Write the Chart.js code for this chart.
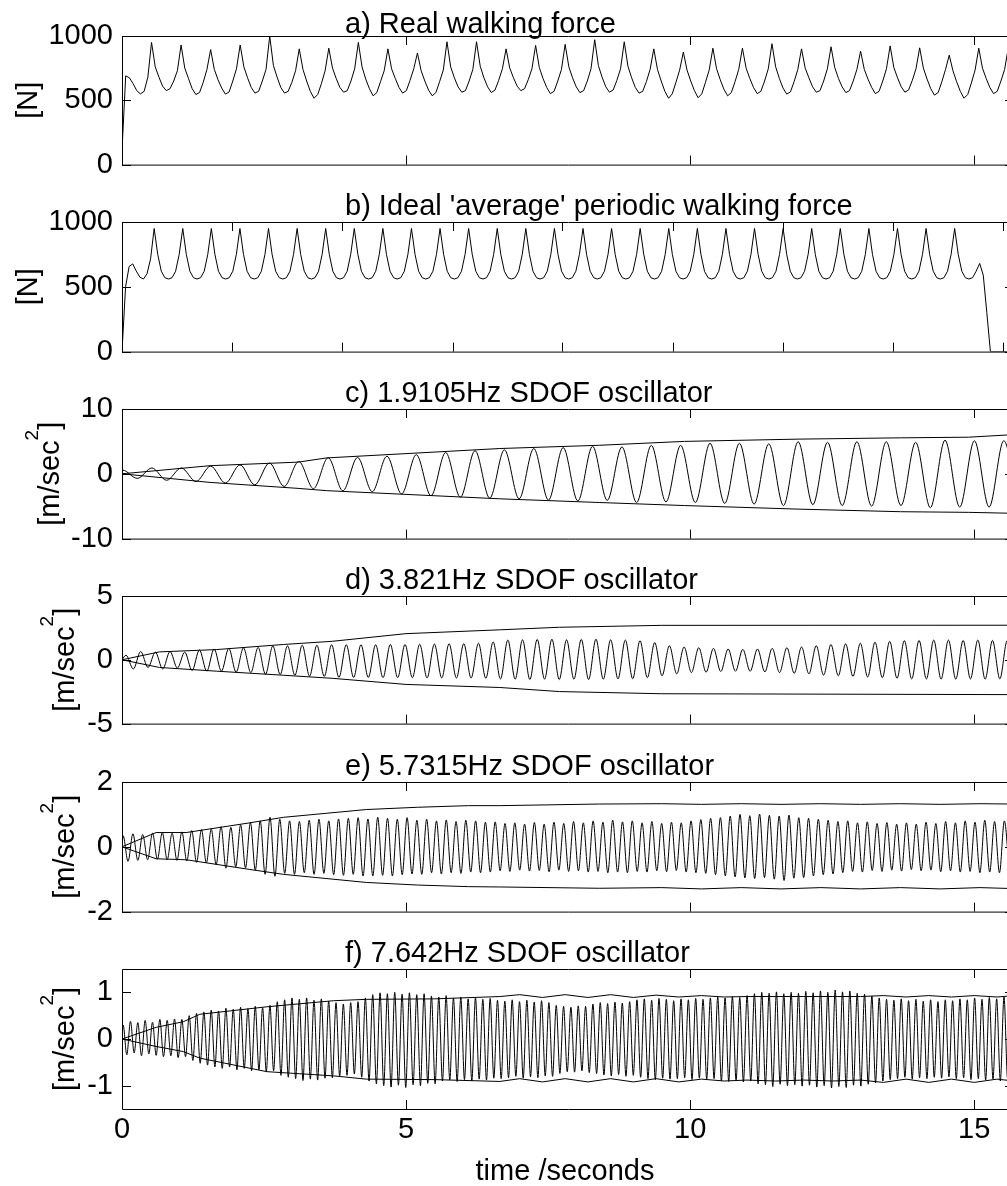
<!DOCTYPE html>
<html>
<head>
<meta charset="utf-8">
<title>Walking force and SDOF oscillator responses</title>
<script src="https://cdn.jsdelivr.net/npm/chart.js@4.4.1/dist/chart.umd.min.js"></script>
<style>
  html, body { margin: 0; padding: 0; background: #fff; overflow: hidden; }
  #figure { position: relative; width: 1007px; height: 1186px; overflow: hidden; background: #fff; }
  #figure canvas { position: absolute; left: 0; }
</style>
</head>
<body>
<div id="figure"></div>
<script>
//////////////////////////////////
// Data
//////////////////////////////////
const timeMax = 15.7;            // seconds, right edge of the axes
const timeTicks = [0, 5, 10, 15];
const bTicks = [1.94, 3.88, 5.82, 7.75, 9.69, 11.63, 13.57, 15.51];

// a) real walking force [N], one sample every 0.065 s
const aStep = 0.065;
const aForce = [
  110, 690, 675, 630, 575, 550, 570, 680,
  950, 760, 680, 610, 575, 590, 650, 730,
  930, 750, 670, 590, 545, 560, 640, 740,
  894, 740, 660, 595, 548, 565, 650, 745,
  930, 760, 675, 600, 556, 570, 650, 740,
  1000, 770, 680, 600, 556, 570, 640, 730,
  900, 740, 650, 570, 516, 545, 630, 730,
  905, 750, 670, 600, 563, 575, 650, 745,
  950, 760, 665, 590, 535, 560, 645, 730,
  900, 745, 670, 600, 556, 575, 655, 745,
  868, 730, 650, 580, 535, 560, 645, 735,
  955, 760, 675, 605, 563, 575, 650, 740,
  955, 765, 675, 605, 560, 580, 655, 745,
  900, 750, 675, 610, 575, 590, 660, 745,
  927, 755, 670, 600, 552, 570, 650, 740,
  935, 760, 675, 605, 560, 575, 650, 745,
  971, 770, 680, 605, 563, 580, 655, 745,
  955, 765, 675, 600, 556, 570, 645, 740,
  900, 740, 650, 570, 516, 550, 640, 735,
  875, 735, 650, 575, 520, 550, 640, 735,
  905, 745, 660, 585, 535, 560, 645, 740,
  905, 750, 670, 600, 552, 570, 650, 745,
  940, 760, 670, 595, 548, 565, 645, 740,
  900, 750, 675, 605, 563, 575, 650, 745,
  916, 755, 670, 605, 560, 575, 650, 740,
  882, 740, 665, 600, 552, 570, 650, 745,
  923, 755, 675, 605, 563, 580, 655, 745,
  908, 750, 665, 590, 540, 560, 645, 740,
  851, 730, 645, 570, 516, 545, 635, 735,
  905, 750, 670, 600, 552, 570, 650, 740,
  910, 750
];

// b) ideal 'average' periodic walking force [N], one sample every 0.0629 s
const bStep = 0.0629;
const bForce = [
  0, 500, 657, 677, 621, 574, 560, 600, 716,
  950, 750, 620, 570, 560, 570, 620, 750,
  950, 750, 620, 570, 560, 570, 620, 750,
  950, 750, 620, 570, 560, 570, 620, 750,
  950, 750, 620, 570, 560, 570, 620, 750,
  950, 750, 620, 570, 560, 570, 620, 750,
  950, 750, 620, 570, 560, 570, 620, 750,
  950, 750, 620, 570, 560, 570, 620, 750,
  950, 750, 620, 570, 560, 570, 620, 750,
  950, 750, 620, 570, 560, 570, 620, 750,
  950, 750, 620, 570, 560, 570, 620, 750,
  950, 750, 620, 570, 560, 570, 620, 750,
  950, 750, 620, 570, 560, 570, 620, 750,
  950, 750, 620, 570, 560, 570, 620, 750,
  950, 750, 620, 570, 560, 570, 620, 750,
  950, 750, 620, 570, 560, 570, 620, 750,
  950, 750, 620, 570, 560, 570, 620, 750,
  950, 750, 620, 570, 560, 570, 620, 750,
  950, 750, 620, 570, 560, 570, 620, 750,
  950, 750, 620, 570, 560, 570, 620, 750,
  950, 750, 620, 570, 560, 570, 620, 750,
  950, 750, 620, 570, 560, 570, 620, 750,
  950, 750, 620, 570, 560, 570, 620, 750,
  950, 750, 620, 570, 560, 570, 620, 750,
  950, 750, 620, 570, 560, 570, 620, 750,
  950, 750, 620, 570, 560, 570, 620, 750,
  950, 750, 620, 570, 560, 570, 620, 750,
  950, 750, 620, 570, 560, 570, 620, 750,
  950, 750, 620, 570, 560, 570, 620, 750,
  950, 750, 620, 570, 560, 570, 620, 680,
  590, 300, 0, 0, 0, 0, 0, 0, 0, 0
];

// c) 1.9105Hz oscillator: successive peaks / troughs [m/sec^2]
const cStart = 0.01, cStep = 0.2585;
const cAccel = [
  0.57, -0.71, 0.9, -1.0, 0.9, -1.19, 1.19, -1.43, 1.38, -1.71,
  1.67, -1.95, 1.9, -2.29, 2.48, -2.62, 2.52, -2.76, 2.71, -3.1,
  2.95, -3.38, 3.29, -3.62, 3.57, -3.76, 3.7, -3.86, 3.9, -4.05,
  4.05, -4.19, 4.24, -4.1, 4.14, -4.43, 4.38, -4.33, 4.38, -4.43,
  4.71, -4.57, 4.71, -4.67, 4.62, -4.9, 4.95, -4.76, 4.86, -4.9,
  4.95, -5.0, 4.95, -4.9, 4.86, -5.24, 5.19, -5.14, 5.1, -5.14,
  5.1, -5.2
];
const cEnvTime = [0, 1.55, 3.1, 3.6, 6.65, 8.4, 9.9, 11.9, 13.7, 14.9, 15.7];
const cUpper = [0, 1.25, 1.8, 2.45, 3.9, 4.4, 5.0, 5.35, 5.55, 5.65, 6.05];
const cLower = [0, -1.33, -2.25, -2.6, -3.86, -4.43, -4.9, -5.45, -5.85, -5.95, -6.1];

// d) 3.821Hz oscillator
const dStart = 0.07, dStep = 0.12925;
const dAccel = [
  0.36, -0.72, 0.65, -0.6, 0.6, -0.72, 0.65, -0.65, 0.6, -0.84,
  0.77, -0.89, 0.85, -0.89, 0.89, -0.97, 0.94, -1.0, 0.97, -1.13,
  1.09, -1.15, 1.09, -1.21, 1.14, -1.28, 1.14, -1.3, 1.18, -1.38,
  1.18, -1.38, 1.18, -1.38, 1.18, -1.4, 1.2, -1.4, 1.2, -1.4,
  1.22, -1.42, 1.24, -1.42, 1.26, -1.43, 1.26, -1.43, 1.3, -1.45,
  1.4, -1.5, 1.55, -1.52, 1.57, -1.55, 1.6, -1.52, 1.62, -1.55,
  1.57, -1.52, 1.6, -1.55, 1.62, -1.52, 1.57, -1.5, 1.55, -1.48,
  1.5, -1.4, 1.35, -1.25, 1.1, -1.1, 1.0, -1.0, 0.95, -0.97,
  0.9, -0.92, 0.85, -0.9, 0.82, -0.9, 0.85, -0.95, 0.9, -1.0,
  0.95, -1.05, 1.0, -1.1, 1.1, -1.2, 1.2, -1.25, 1.25, -1.3,
  1.3, -1.35, 1.38, -1.4, 1.45, -1.45, 1.5, -1.5, 1.52, -1.5,
  1.55, -1.52, 1.55, -1.52, 1.52, -1.5, 1.55, -1.52, 1.52, -1.5,
  1.5, -1.5
];
const dEnvTime = [0, 0.66, 1.66, 2.84, 3.7, 5.0, 6.65, 7.7, 9.5, 15.7];
const dUpper = [0, 0.62, 0.8, 1.2, 1.45, 2.05, 2.35, 2.55, 2.7, 2.71];
const dLower = [0, -0.6, -0.89, -1.21, -1.45, -1.93, -2.17, -2.49, -2.66, -2.73];

// e) 5.7315Hz oscillator
const eStart = 0.02, eStep = 0.08617;
const eAccel = [
  0.34, -0.45, 0.4, -0.42, 0.38, -0.4, 0.42, -0.38, 0.44, -0.4,
  0.42, -0.42, 0.46, -0.44, 0.5, -0.48, 0.53, -0.5, 0.55, -0.55,
  0.62, -0.66, 0.6, -0.62, 0.68, -0.65, 0.75, -0.72, 0.8, -0.85,
  0.91, -0.91, 0.85, -0.82, 0.8, -0.85, 0.78, -0.8, 0.82, -0.85,
  0.85, -0.82, 0.8, -0.86, 0.86, -0.88, 0.88, -0.85, 0.9, -0.9,
  0.86, -0.9, 0.91, -0.88, 0.88, -0.9, 0.85, -0.86, 0.9, -0.84,
  0.82, -0.85, 0.85, -0.8, 0.8, -0.84, 0.83, -0.8, 0.78, -0.82,
  0.82, -0.78, 0.8, -0.8, 0.76, -0.78, 0.77, -0.74, 0.72, -0.76,
  0.74, -0.72, 0.7, -0.75, 0.75, -0.73, 0.7, -0.77, 0.76, -0.72,
  0.72, -0.76, 0.78, -0.74, 0.74, -0.78, 0.8, -0.76, 0.76, -0.8,
  0.82, -0.78, 0.77, -0.8, 0.8, -0.76, 0.74, -0.78, 0.78, -0.74,
  0.72, -0.77, 0.76, -0.73, 0.74, -0.78, 0.8, -0.8, 0.84, -0.82,
  0.88, -0.86, 0.9, -0.9, 0.95, -0.93, 1.0, -0.96, 0.96, -0.98,
  1.01, -0.95, 0.97, -1.0, 0.95, -1.04, 0.98, -0.97, 0.9, -0.95,
  0.88, -0.9, 0.85, -0.86, 0.82, -0.84, 0.78, -0.8, 0.8, -0.76,
  0.74, -0.78, 0.77, -0.73, 0.72, -0.76, 0.75, -0.72, 0.7, -0.75,
  0.74, -0.7, 0.7, -0.74, 0.76, -0.72, 0.72, -0.77, 0.78, -0.74,
  0.74, -0.78, 0.8, -0.76, 0.76, -0.8, 0.82, -0.78, 0.78, -0.8,
  0.8, -0.78
];
const eEnvTime = [0, 0.6, 1.13, 2.25, 2.84, 4.3, 5.2, 6.1, 6.65, 8.4, 9.5, 10.2, 10.9, 11.6, 12.3, 13.0, 13.7, 14.4, 15.1, 15.7];
const eUpper = [0, 0.44, 0.44, 0.74, 0.91, 1.15, 1.22, 1.27, 1.27, 1.32, 1.33, 1.31, 1.33, 1.31, 1.33, 1.31, 1.33, 1.31, 1.33, 1.32];
const eLower = [0, -0.37, -0.4, -0.7, -0.85, -1.1, -1.18, -1.23, -1.24, -1.28, -1.26, -1.3, -1.26, -1.3, -1.26, -1.3, -1.26, -1.3, -1.26, -1.29];

// f) 7.642Hz oscillator
const fStart = 0.02, fStep = 0.0646;
const fAccel = [
  0.3, -0.34, 0.38, -0.3, 0.35, -0.36, 0.4, -0.32, 0.36, -0.35,
  0.42, -0.38, 0.4, -0.36, 0.43, -0.4, 0.42, -0.38, 0.5, -0.46,
  0.55, -0.52, 0.58, -0.56, 0.62, -0.6, 0.6, -0.63, 0.66, -0.6,
  0.64, -0.66, 0.68, -0.63, 0.65, -0.68, 0.7, -0.66, 0.67, -0.7,
  0.72, -0.68, 0.8, -0.78, 0.84, -0.82, 0.88, -0.85, 0.85, -0.89,
  0.88, -0.86, 0.83, -0.88, 0.86, -0.84, 0.81, -0.83, 0.78, -0.8,
  0.75, -0.78, 0.78, -0.75, 0.8, -0.82, 0.88, -0.9, 0.95, -0.96,
  0.99, -1.0, 0.97, -1.03, 1.0, -0.99, 0.96, -1.04, 0.99, -0.98,
  0.95, -1.0, 0.97, -0.95, 0.92, -0.96, 0.9, -0.9, 0.93, -0.88,
  0.88, -0.91, 0.9, -0.87, 0.86, -0.9, 0.89, -0.86, 0.85, -0.88,
  0.87, -0.84, 0.83, -0.85, 0.81, -0.83, 0.84, -0.8, 0.8, -0.84,
  0.83, -0.81, 0.79, -0.83, 0.82, -0.79, 0.78, -0.8, 0.72, -0.74,
  0.7, -0.7, 0.68, -0.71, 0.71, -0.68, 0.7, -0.72, 0.75, -0.74,
  0.78, -0.77, 0.76, -0.79, 0.79, -0.76, 0.77, -0.8, 0.8, -0.78,
  0.84, -0.82, 0.86, -0.85, 0.83, -0.87, 0.87, -0.84, 0.85, -0.86,
  0.82, -0.85, 0.86, -0.83, 0.84, -0.87, 0.87, -0.84, 0.85, -0.86,
  0.88, -0.85, 0.9, -0.9, 0.88, -0.91, 0.91, -0.89, 0.89, -0.92,
  0.93, -0.9, 0.97, -0.96, 1.0, -0.98, 0.98, -1.02, 1.01, -0.97,
  0.97, -1.0, 1.0, -0.98, 0.98, -1.01, 1.02, -0.99, 0.99, -1.03,
  1.03, -1.0, 1.0, -1.05, 1.05, -1.02, 1.01, -1.04, 1.03, -0.99,
  0.98, -1.01, 0.96, -0.97, 0.92, -0.94, 0.88, -0.9, 0.85, -0.87,
  0.83, -0.85, 0.86, -0.82, 0.82, -0.86, 0.85, -0.83, 0.81, -0.85,
  0.84, -0.82, 0.8, -0.84, 0.84, -0.81, 0.82, -0.85, 0.86, -0.83,
  0.84, -0.87, 0.88, -0.85, 0.85, -0.88, 0.89, -0.86, 0.86, -0.9,
  0.9, -0.87, 0.88
];
const fEnvTime = [0, 0.6, 1.08, 1.37, 2.55, 3.72, 4.3, 5.5, 6.65, 7.0, 7.4, 7.8, 8.2, 8.6, 9.0, 9.4, 9.8, 10.2, 10.6, 11.0, 11.5, 12.0, 12.5, 13.0, 13.4, 13.8, 14.2, 14.6, 15.0, 15.4, 15.7];
const fUpper = [0, 0.25, 0.37, 0.53, 0.69, 0.82, 0.85, 0.86, 0.91, 0.95, 0.89, 0.95, 0.89, 0.95, 0.89, 0.94, 0.9, 0.93, 0.9, 0.91, 0.91, 0.91, 0.91, 0.91, 0.93, 0.9, 0.93, 0.9, 0.93, 0.9, 0.93];
const fLower = [0, -0.16, -0.27, -0.41, -0.7, -0.79, -0.86, -0.87, -0.91, -0.85, -0.92, -0.85, -0.92, -0.85, -0.92, -0.85, -0.92, -0.86, -0.9, -0.88, -0.9, -0.88, -0.9, -0.88, -0.93, -0.86, -0.93, -0.86, -0.93, -0.86, -0.9];

//////////////////////////////////
// Helpers
//////////////////////////////////
const FONT = '"Liberation Sans", Arial, Helvetica, sans-serif';
const FONT_SIZE = 29;
const SUP_SIZE = 19;
const SUP_RAISE = 21;
const TITLE_X = 345;
const TICK_LEN = 9;
const CANVAS_W = 1020;   // right edge of the axes falls just outside the window

function sampled(start, step, values, withOrigin) {
    const pts = values.map((v, i) => ({ x: start + i * step, y: v }));
    return withOrigin ? [{ x: 0, y: 0 }].concat(pts) : pts;
}

function paired(times, values) {
    return times.map((t, i) => ({ x: t, y: values[i] }));
}

function trace(points, smooth) {
    return {
        data: points,
        borderColor: '#000',
        borderWidth: 1,
        pointRadius: 0,
        fill: false,
        tension: 0,
        cubicInterpolationMode: smooth ? 'monotone' : 'default'
    };
}

const forceLabel = [{ t: '[N]' }];
const accelLabel = [{ t: '[m/sec' }, { t: '2', sup: true }, { t: ']' }];

const panels = [
    { title: 'a) Real walking force', titleGap: 3, top: 36, height: 139,
      yMin: 0, yMax: 1000, yTicks: [0, 500, 1000], xTicks: [5, 10, 15],
      yLabel: forceLabel, labelX: 37,
      datasets: [trace(sampled(0, aStep, aForce, false), false)] },
    { title: "b) Ideal 'average' periodic walking force", titleGap: 7.5, top: 222, height: 140,
      yMin: 0, yMax: 1000, yTicks: [0, 500, 1000], xTicks: bTicks,
      yLabel: forceLabel, labelX: 37,
      datasets: [trace(sampled(0, bStep, bForce, false), false)] },
    { title: 'c) 1.9105Hz SDOF oscillator', titleGap: 7.5, top: 409, height: 140,
      yMin: -10, yMax: 10, yTicks: [-10, 0, 10], xTicks: [5, 10, 15],
      yLabel: accelLabel, labelX: 59,
      datasets: [trace(sampled(cStart, cStep, cAccel, true), true),
                 trace(paired(cEnvTime, cUpper), false),
                 trace(paired(cEnvTime, cLower), false)] },
    { title: 'd) 3.821Hz SDOF oscillator', titleGap: 7.5, top: 596, height: 138,
      yMin: -5, yMax: 5, yTicks: [-5, 0, 5], xTicks: [5, 10, 15],
      yLabel: accelLabel, labelX: 74,
      datasets: [trace(sampled(dStart, dStep, dAccel, true), true),
                 trace(paired(dEnvTime, dUpper), false),
                 trace(paired(dEnvTime, dLower), false)] },
    { title: 'e) 5.7315Hz SDOF oscillator', titleGap: 7.5, top: 782, height: 140,
      yMin: -2, yMax: 2, yTicks: [-2, 0, 2], xTicks: [5, 10, 15],
      yLabel: accelLabel, labelX: 74,
      datasets: [trace(sampled(eStart, eStep, eAccel, true), true),
                 trace(paired(eEnvTime, eUpper), false),
                 trace(paired(eEnvTime, eLower), false)] },
    { title: 'f) 7.642Hz SDOF oscillator', titleGap: 7.5, top: 969, height: 140,
      yMin: -1.5, yMax: 1.5, yTicks: [-1, 0, 1], xTicks: [5, 10, 15],
      yLabel: accelLabel, labelX: 74, xTitle: 'time /seconds', bottomAxis: 77,
      datasets: [trace(sampled(fStart, fStep, fAccel, true), true),
                 trace(paired(fEnvTime, fUpper), false),
                 trace(paired(fEnvTime, fLower), false)] }
];

//////////////////////////////////
// MATLAB-style box, inward ticks, titles
//////////////////////////////////
function makeAxesPlugin(p) {
    return {
        id: 'matlabAxes',
        afterDraw(chart) {
            const ctx = chart.ctx;
            const a = chart.chartArea;
            const xs = chart.scales.x, ys = chart.scales.y;
            ctx.save();
            ctx.strokeStyle = '#000';
            ctx.lineWidth = 1;
            ctx.beginPath();
            ctx.rect(a.left + 0.5, a.top + 0.5, a.right - a.left, a.bottom - a.top);
            p.xTicks.forEach(v => {
                const px = Math.round(xs.getPixelForValue(v)) + 0.5;
                ctx.moveTo(px, a.top); ctx.lineTo(px, a.top + TICK_LEN);
                ctx.moveTo(px, a.bottom); ctx.lineTo(px, a.bottom - TICK_LEN);
            });
            p.yTicks.forEach(v => {
                const py = Math.round(ys.getPixelForValue(v)) + 0.5;
                ctx.moveTo(a.left, py); ctx.lineTo(a.left + TICK_LEN, py);
                ctx.moveTo(a.right, py); ctx.lineTo(a.right - TICK_LEN, py);
            });
            ctx.stroke();

            // title, left aligned like the original figure
            ctx.fillStyle = '#000';
            ctx.textAlign = 'left';
            ctx.textBaseline = 'alphabetic';
            ctx.font = FONT_SIZE + 'px ' + FONT;
            ctx.fillText(p.title, TITLE_X, a.top - p.titleGap);

            if (p.xTitle) {
                ctx.textAlign = 'center';
                ctx.fillText(p.xTitle, 565, a.bottom + 71);
                ctx.textAlign = 'left';
            }

            // rotated y label with optional superscript
            ctx.translate(p.labelX, (a.top + a.bottom) / 2);
            ctx.rotate(-Math.PI / 2);
            const widths = p.yLabel.map(part => {
                ctx.font = (part.sup ? SUP_SIZE : FONT_SIZE) + 'px ' + FONT;
                return ctx.measureText(part.t).width;
            });
            let x = -widths.reduce((s, w) => s + w, 0) / 2;
            p.yLabel.forEach((part, k) => {
                ctx.font = (part.sup ? SUP_SIZE : FONT_SIZE) + 'px ' + FONT;
                ctx.fillText(part.t, x, part.sup ? -SUP_RAISE : 0);
                x += widths[k];
            });
            ctx.restore();
        }
    };
}

//////////////////////////////////
// Build the six panels
//////////////////////////////////
const figure = document.getElementById('figure');
panels.forEach(p => {
    const bottomSpace = p.bottomAxis ? p.bottomAxis : 16;
    const h = 36 + p.height + bottomSpace;
    const canvas = document.createElement('canvas');
    canvas.width = CANVAS_W;
    canvas.height = h;
    canvas.style.width = CANVAS_W + 'px';
    canvas.style.height = h + 'px';
    canvas.style.top = (p.top - 36) + 'px';
    figure.appendChild(canvas);

    new Chart(canvas.getContext('2d'), {
        type: 'line',
        data: { datasets: p.datasets },
        options: {
            responsive: false,
            animation: false,
            devicePixelRatio: 1,
            events: [],
            layout: { padding: { top: 36, left: 0, right: CANVAS_W - 1014, bottom: p.bottomAxis ? 0 : bottomSpace } },
            plugins: { legend: { display: false }, tooltip: { enabled: false } },
            scales: {
                x: {
                    type: 'linear',
                    min: 0,
                    max: timeMax,
                    display: !!p.bottomAxis,
                    afterBuildTicks: s => { s.ticks = timeTicks.map(v => ({ value: v })); },
                    afterFit: s => { if (p.bottomAxis) s.height = p.bottomAxis; },
                    grid: { display: false, drawTicks: false },
                    border: { display: false },
                    ticks: {
                        autoSkip: false, maxRotation: 0, padding: 4, color: '#000',
                        font: { family: FONT, size: FONT_SIZE },
                        callback: v => String(v)
                    }
                },
                y: {
                    type: 'linear',
                    min: p.yMin,
                    max: p.yMax,
                    afterBuildTicks: s => { s.ticks = p.yTicks.map(v => ({ value: v })); },
                    afterFit: s => { s.width = 122; },
                    grid: { display: false, drawTicks: false },
                    border: { display: false },
                    ticks: {
                        autoSkip: false, padding: 9, color: '#000',
                        font: { family: FONT, size: FONT_SIZE },
                        callback: v => String(v)
                    }
                }
            }
        },
        plugins: [makeAxesPlugin(p)]
    });
});
</script>
</body>
</html>
